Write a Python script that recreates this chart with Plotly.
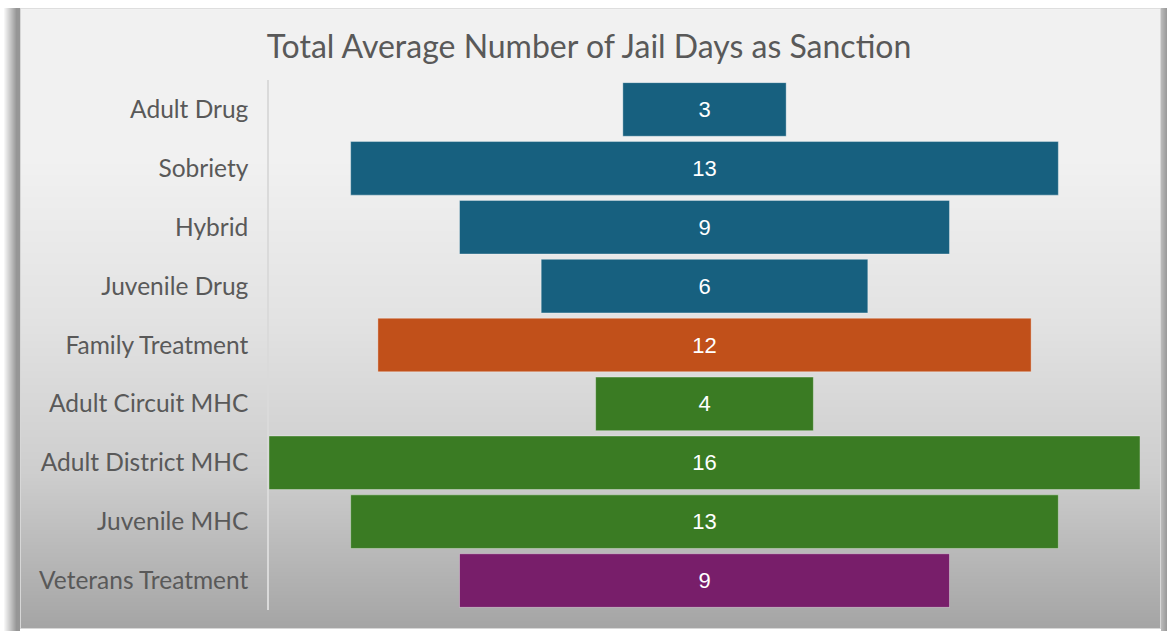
import base64, zlib, struct
import numpy as np
import plotly.graph_objects as go

categories = ["Adult Drug", "Sobriety", "Hybrid", "Juvenile Drug", "Family Treatment",
              "Adult Circuit MHC", "Adult District MHC", "Juvenile MHC", "Veterans Treatment"]
values = [3, 13, 9, 6, 12, 4, 16, 13, 9]
bar_colors = ["#17607F", "#17607F", "#17607F", "#17607F", "#C1501A",
              "#3A7B23", "#3A7B23", "#3A7B23", "#781E6A"]
title_text = "Total Average Number of Jail Days as Sanction"

W, H = 1167, 631

# ---- background picture (frame, shadow, gradient) ----
def make_png(arr):
    h, w, _ = arr.shape
    raw = b"".join(b"\x00" + arr[i].tobytes() for i in range(h))
    def chunk(tag, data):
        c = struct.pack(">I", len(data)) + tag + data
        return c + struct.pack(">I", zlib.crc32(tag + data) & 0xffffffff)
    png = b"\x89PNG\r\n\x1a\n"
    png += chunk(b"IHDR", struct.pack(">IIBBBBB", w, h, 8, 2, 0, 0, 0))
    png += chunk(b"IDAT", zlib.compress(raw, 9))
    png += chunk(b"IEND", b"")
    return "data:image/png;base64," + base64.b64encode(png).decode()

img = np.full((H, W), 255.0)
# left shadow
for x in range(3, 20):
    v = 255 - (255 - 150) * min(1.0, (x - 3) / 13.0)
    img[8:, x] = v
# right shadow
for x in range(1161, W):
    img[8:, x] = 185 - (x - 1161) * 6
# frame interior gradient
y0, y1 = 9, 628
ts = np.array([0.0, 0.25, 0.5, 0.75, 1.0])
cs = np.array([242, 241, 227, 206, 165])
for y in range(y0, y1 + 1):
    t = (y - y0) / (y1 - y0)
    img[y, 20:1160] = np.interp(t, ts, cs)
img[8, 20:1160] = 222
img[8:629, 20] = 215
img[8:629, 1160] = 215
img[628, 20:1161] = 215
img[629:, 20:1161] = 255
arr = np.clip(np.stack([img] * 3, axis=-1), 0, 255).astype(np.uint8)
bg_uri = make_png(arr)

L, R, T, B = 269, 27, 80, 21

fig = go.Figure(go.Funnel(
    y=categories,
    x=values,
    text=[str(v) for v in values],
    textinfo="text",
    textposition="inside",
    insidetextanchor="middle",
    textfont=dict(family="Liberation Sans, Arial", size=22, color="white"),
    marker=dict(color=bar_colors, line=dict(color="rgba(255,255,255,0.35)", width=1)),
    connector=dict(visible=False),
    hoverinfo="skip",
))

fig.update_layout(
    width=W, height=H,
    margin=dict(l=L, r=R, t=T, b=B),
    paper_bgcolor="white",
    plot_bgcolor="rgba(0,0,0,0)",
    title=dict(text=title_text, x=589 / W, xanchor="center", y=1 - 47 / H, yanchor="middle",
               font=dict(family="Lato, Open Sans", size=32, color="#595959")),
    funnelgap=0.09,
    showlegend=False,
    xaxis=dict(range=[-8, 8], visible=False, fixedrange=True),
    yaxis=dict(autorange="reversed", showline=True, linecolor="#DADADA", linewidth=1.5,
               ticks="", ticklabelstandoff=14, showgrid=False, zeroline=False, fixedrange=True,
               tickfont=dict(family="Lato, Open Sans", size=24.5, color="#595959")),
    images=[dict(source=bg_uri, xref="paper", yref="paper",
                 x=-L / (W - L - R), y=1 + T / (H - T - B),
                 sizex=W / (W - L - R), sizey=H / (H - T - B),
                 xanchor="left", yanchor="top", sizing="stretch", layer="below")],
)

fig.write_html("out.html", config={"displayModeBar": False},
               post_script="document.body.style.margin='0';")
